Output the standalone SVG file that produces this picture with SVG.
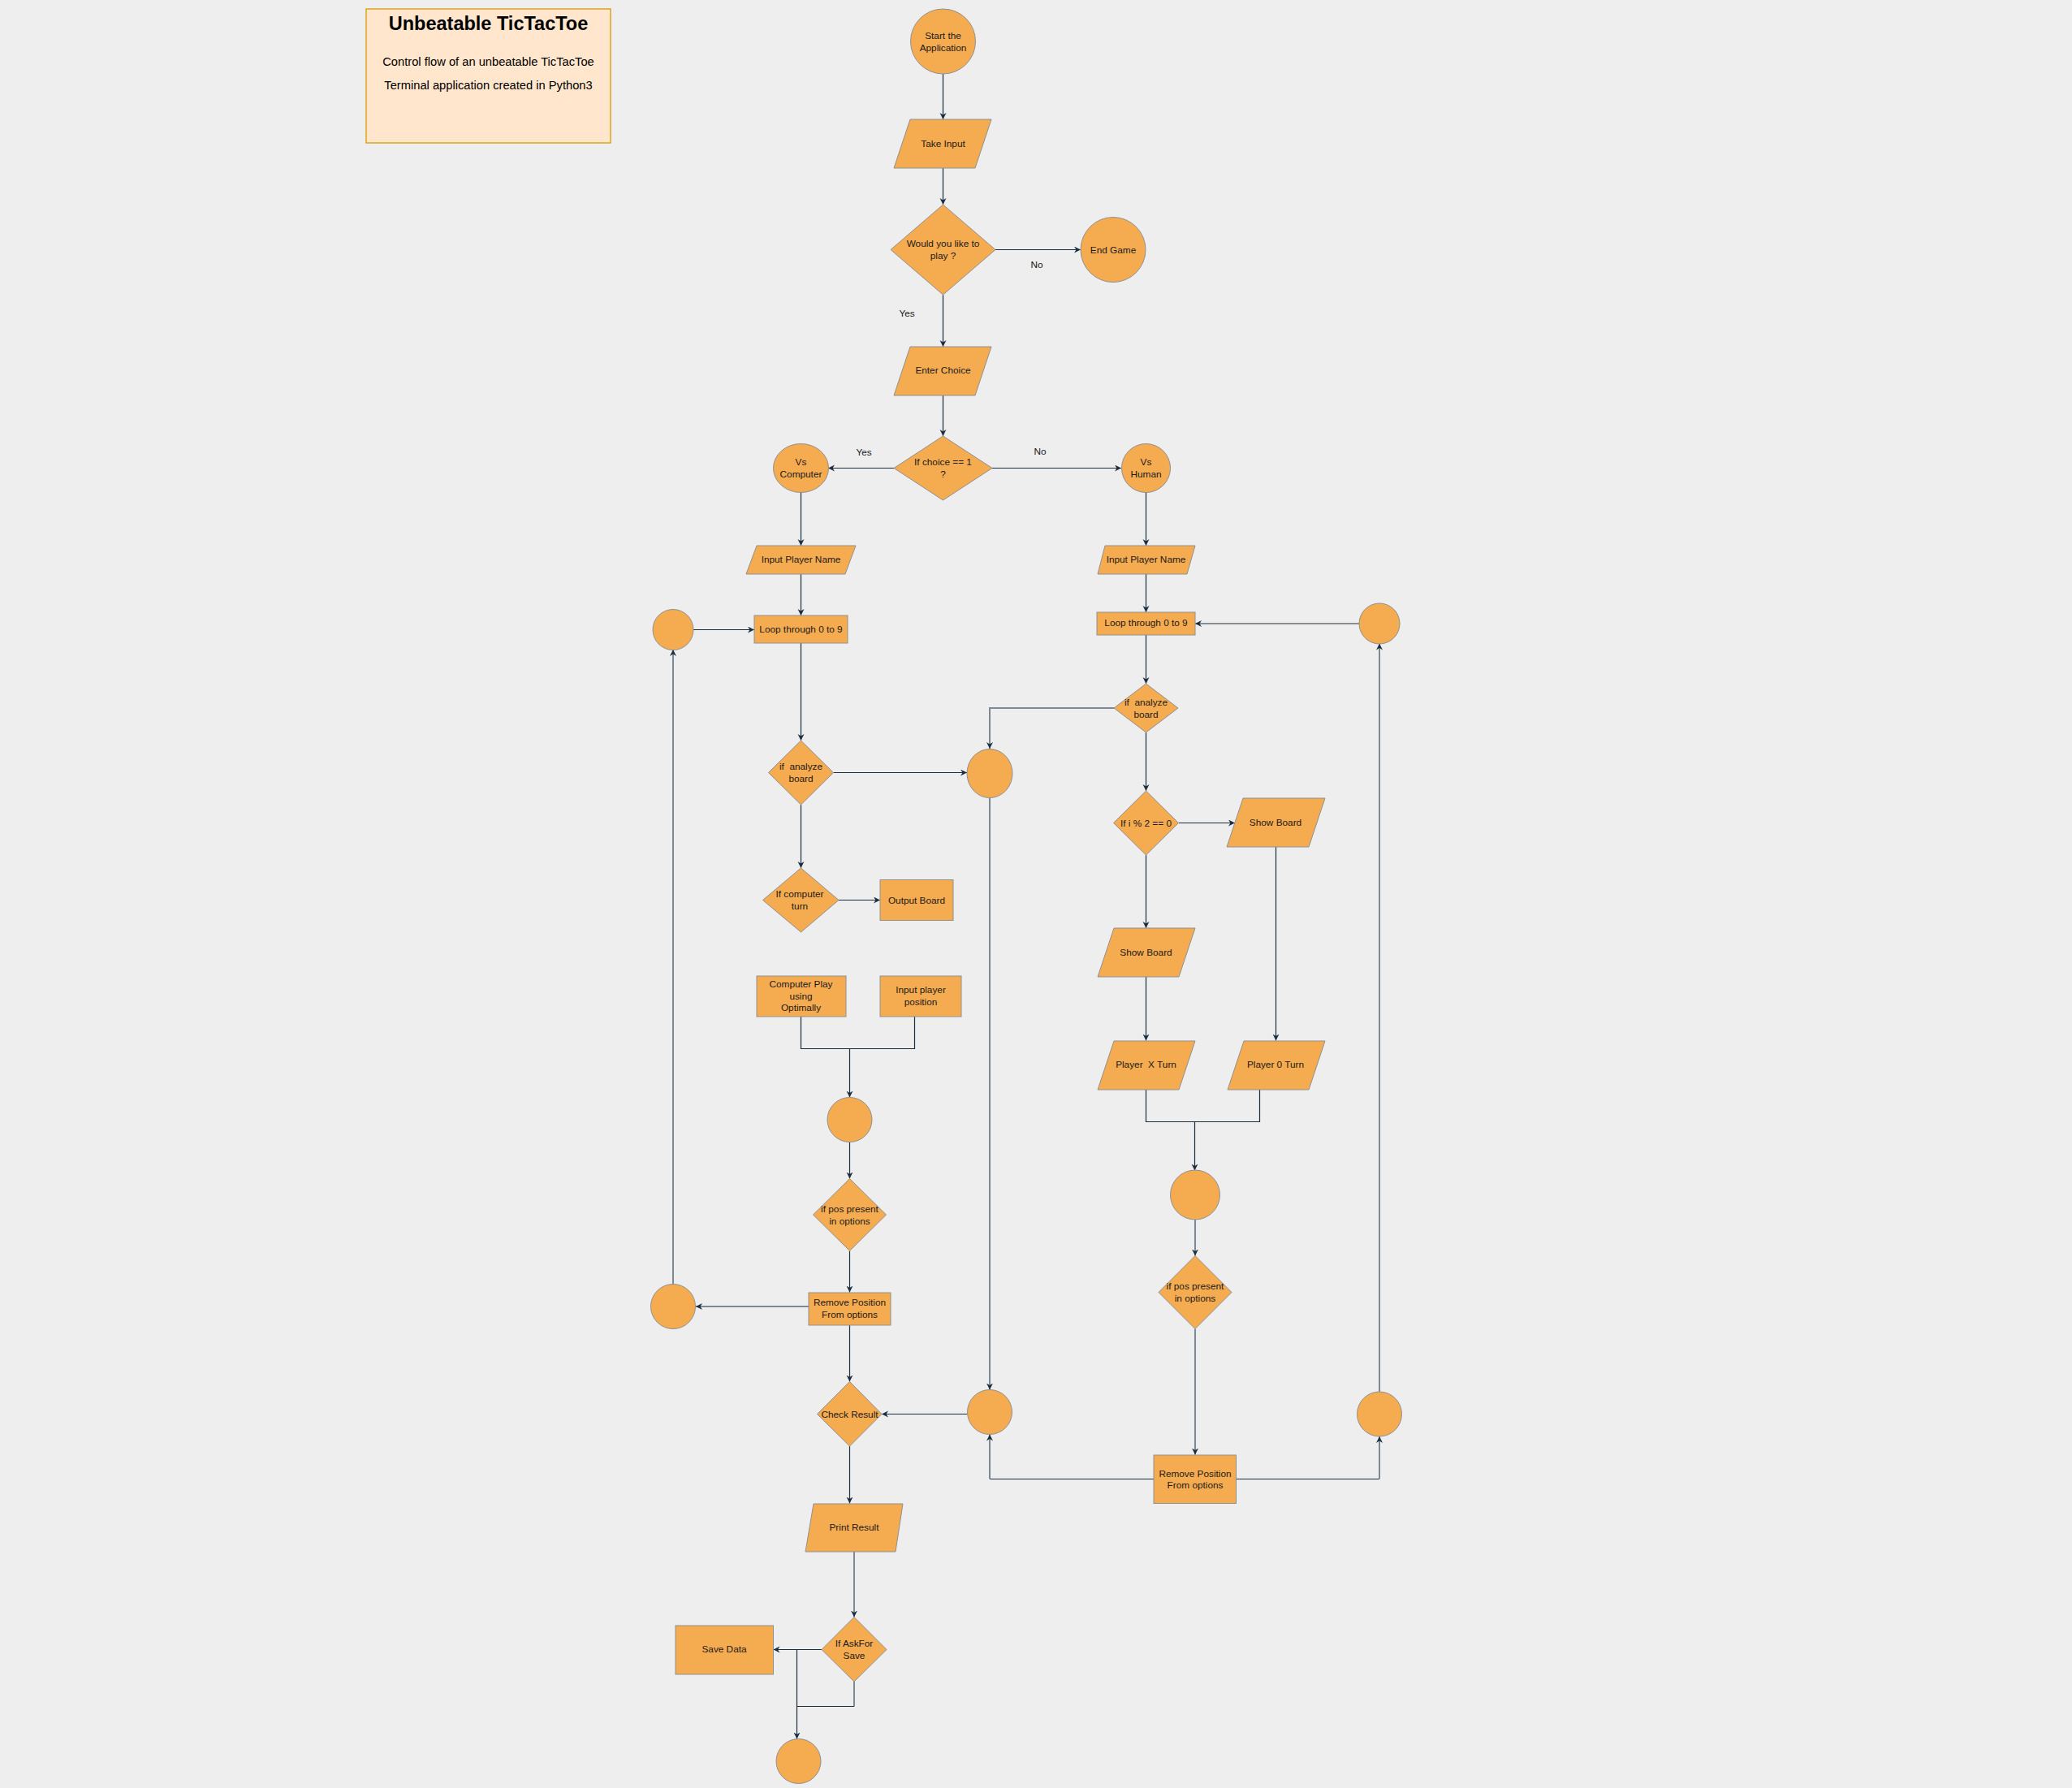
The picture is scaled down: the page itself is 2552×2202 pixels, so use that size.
<svg xmlns="http://www.w3.org/2000/svg" width="2552" height="2202" viewBox="0 0 2552 2202">
<style>
.n{fill:#F5AB50;stroke:#909090;stroke-width:1}
.t{font-family:"Liberation Sans",Arial,sans-serif;font-size:11.8px;fill:#1A1A1A;text-anchor:middle}
.e{fill:none;stroke:#1b2e3f;stroke-width:1.2}
.g{fill:none;stroke:#7d8995;stroke-width:2}
</style>
<defs>
<marker id="a" markerUnits="userSpaceOnUse" markerWidth="10" markerHeight="10" refX="8" refY="4" orient="auto">
<path d="M0,0 L8,4 L0,8 L2.5,4 z" fill="#1b2e3f"/>
</marker>
</defs>
<rect x="0" y="0" width="2552" height="2202" fill="#EEEEEE"/>

<g id="title">
<rect x="451" y="11" width="301" height="165" fill="#ffe6cc" stroke="#d79b00" stroke-width="1.3"/>
<text x="601.5" y="37" font-family="Liberation Sans,Arial,sans-serif" font-size="23.5" font-weight="bold" text-anchor="middle" fill="#000">Unbeatable TicTacToe</text>
<text x="601.5" y="81" font-family="Liberation Sans,Arial,sans-serif" font-size="14.7" text-anchor="middle" fill="#000">Control flow of an unbeatable TicTacToe</text>
<text x="601.5" y="110" font-family="Liberation Sans,Arial,sans-serif" font-size="14.7" text-anchor="middle" fill="#000">Terminal application created in Python3</text>
</g>

<g id="connectors">
<path class="e" d="M1161.5,91 V147" marker-end="url(#a)"/>
<path class="e" d="M1161.5,207 V252" marker-end="url(#a)"/>
<path class="e" d="M1226,307.5 H1331" marker-end="url(#a)"/>
<path class="e" d="M1161.5,363 V427" marker-end="url(#a)"/>
<path class="e" d="M1161.5,487 V537" marker-end="url(#a)"/>
<path class="e" d="M1101,576.5 H1020" marker-end="url(#a)"/>
<path class="e" d="M1222,576.5 H1381" marker-end="url(#a)"/>
<path class="e" d="M986.5,606 V672" marker-end="url(#a)"/>
<path class="e" d="M1411.5,606 V672" marker-end="url(#a)"/>
<path class="e" d="M986.5,707 V758" marker-end="url(#a)"/>
<path class="e" d="M854,775.5 H929" marker-end="url(#a)"/>
<path class="e" d="M986.5,792 V912" marker-end="url(#a)"/>
<path class="e" d="M1026.5,951.5 H1191" marker-end="url(#a)"/>
<path class="e" d="M986.5,991 V1069" marker-end="url(#a)"/>
<path class="e" d="M1033,1108.5 H1084" marker-end="url(#a)"/>
<path class="e" d="M986.5,1252 V1291.5 H1126.5 V1252"/>
<path class="e" d="M1046.5,1291.5 V1351.5" marker-end="url(#a)"/>
<path class="e" d="M1046.5,1406.5 V1451.5" marker-end="url(#a)"/>
<path class="e" d="M1046.5,1540.5 V1591.5" marker-end="url(#a)"/>
<path class="g" d="M996,1609 H857" marker-end="url(#a)"/>
<path class="g" d="M829,1581 V800" marker-end="url(#a)"/>
<path class="e" d="M1046.5,1631.5 V1701.5" marker-end="url(#a)"/>
<path class="e" d="M1411.5,707 V754" marker-end="url(#a)"/>
<path class="e" d="M1674,768 H1472" marker-end="url(#a)"/>
<path class="e" d="M1411.5,782 V842" marker-end="url(#a)"/>
<path class="g" d="M1372,872 H1219 V922" marker-end="url(#a)"/>
<path class="e" d="M1411.5,902 V974" marker-end="url(#a)"/>
<path class="e" d="M1451.5,1013.5 H1521" marker-end="url(#a)"/>
<path class="e" d="M1411.5,1052.5 V1143" marker-end="url(#a)"/>
<path class="e" d="M1571.5,1043 V1281.5" marker-end="url(#a)"/>
<path class="e" d="M1411.5,1203 V1281.5" marker-end="url(#a)"/>
<path class="e" d="M1411.5,1342 V1381.5 H1551.5 V1342"/>
<path class="e" d="M1471.5,1381.5 V1441.5" marker-end="url(#a)"/>
<path class="g" d="M1472,1502 V1546.5" marker-end="url(#a)"/>
<path class="g" d="M1472,1636.5 V1791.5" marker-end="url(#a)"/>
<path class="e" d="M1421,1821.5 H1219"/>
<path class="g" d="M1219,1821.5 V1766.5" marker-end="url(#a)"/>
<path class="e" d="M1522.5,1821.5 H1699"/>
<path class="g" d="M1699,1821.5 V1769" marker-end="url(#a)"/>
<path class="g" d="M1699,1714 V792.5" marker-end="url(#a)"/>
<path class="g" d="M1219,983 V1711.5" marker-end="url(#a)"/>
<path class="e" d="M1191.5,1741.5 H1086" marker-end="url(#a)"/>
<path class="e" d="M1046.5,1781 V1851.5" marker-end="url(#a)"/>
<path class="g" d="M1052,1911 V1991.5" marker-end="url(#a)"/>
<path class="e" d="M1012,2031.5 H952.5" marker-end="url(#a)"/>
<path class="e" d="M981.5,2031.5 V2141.5" marker-end="url(#a)"/>
<path class="g" d="M1052,2070.5 V2101.5"/>
<path class="e" d="M1052,2101.5 H981.5"/>
</g>

<g id="start"><circle class="n" cx="1161.5" cy="51" r="40"/><text class="t" x="1161.5" y="48.3">Start the</text><text class="t" x="1161.5" y="63.3">Application</text></g>
<g id="take-input"><polygon class="n" points="1121,147 1221,147 1201,207 1101,207"/><text class="t" x="1161.5" y="181.2">Take Input</text></g>
<g id="play-decision"><polygon class="n" points="1161.5,252 1226,307.5 1161.5,363 1097,307.5"/><text class="t" x="1161.5" y="304.2">Would you like to</text><text class="t" x="1161.5" y="319.2">play ?</text></g>
<g id="end-game"><circle class="n" cx="1371" cy="307.5" r="40"/><text class="t" x="1371" y="311.7">End Game</text></g>
<g id="label-no1"><text class="t" x="1277" y="330.2">No</text></g>
<g id="label-yes1"><text class="t" x="1117" y="390.2">Yes</text></g>
<g id="enter-choice"><polygon class="n" points="1121,427 1221,427 1201,487 1101,487"/><text class="t" x="1161.5" y="460.2">Enter Choice</text></g>
<g id="choice-decision"><polygon class="n" points="1161.5,537 1222,576.5 1161.5,616 1101,576.5"/><text class="t" x="1161.5" y="573.2">If choice == 1</text><text class="t" x="1161.5" y="588.2">?</text></g>
<g id="label-yes2"><text class="t" x="1064" y="561.2">Yes</text></g>
<g id="label-no2"><text class="t" x="1281" y="560.2">No</text></g>
<g id="vs-computer"><ellipse class="n" cx="986.5" cy="576.5" rx="34" ry="30"/><text class="t" x="986.5" y="573.2">Vs</text><text class="t" x="986.5" y="588.2">Computer</text></g>
<g id="vs-human"><circle class="n" cx="1411.5" cy="576.5" r="30"/><text class="t" x="1411.5" y="573.2">Vs</text><text class="t" x="1411.5" y="588.2">Human</text></g>
<g id="input-name-left"><polygon class="n" points="932,672 1054,672 1041,707 919,707"/><text class="t" x="986.5" y="693.2">Input Player Name</text></g>
<g id="input-name-right"><polygon class="n" points="1361,672 1472,672 1462,707 1352,707"/><text class="t" x="1411.5" y="693.2">Input Player Name</text></g>
<g id="loop-left"><rect class="n" x="929" y="758" width="115" height="34"/><text class="t" x="986.5" y="779.2">Loop through 0 to 9</text></g>
<g id="loop-left-conn"><circle class="n" cx="829" cy="775.5" r="25"/></g>
<g id="loop-right"><rect class="n" x="1351" y="754" width="121" height="28"/><text class="t" x="1411.5" y="771.2">Loop through 0 to 9</text></g>
<g id="loop-right-conn"><circle class="n" cx="1699" cy="768" r="25"/></g>
<g id="analyze-left"><polygon class="n" points="986.5,912 1026.5,951.5 986.5,991 946.5,951.5"/><text class="t" x="986.5" y="948.2" xml:space="preserve">if  analyze</text><text class="t" x="986.5" y="963.2">board</text></g>
<g id="mid-conn-top"><ellipse class="n" cx="1219" cy="952.5" rx="28" ry="30"/></g>
<g id="analyze-right"><polygon class="n" points="1411.5,842 1451,872 1411.5,902 1372,872"/><text class="t" x="1411.5" y="869.2" xml:space="preserve">if  analyze</text><text class="t" x="1411.5" y="884.2">board</text></g>
<g id="computer-turn"><polygon class="n" points="986.5,1069 1033,1108.5 986.5,1148 939.5,1108.5"/><text class="t" x="985" y="1105">If computer</text><text class="t" x="985" y="1120">turn</text></g>
<g id="output-board"><rect class="n" x="1084" y="1083.5" width="90" height="50"/><text class="t" x="1129" y="1112.5">Output Board</text></g>
<g id="mod-decision"><polygon class="n" points="1411.5,974 1451.5,1013.5 1411.5,1053 1371.5,1013.5"/><text class="t" x="1411.5" y="1017.7">If i % 2 == 0</text></g>
<g id="show-board-right"><polygon class="n" points="1531,983 1632,983 1612,1043 1511,1043"/><text class="t" x="1571" y="1017.2">Show Board</text></g>
<g id="show-board-left"><polygon class="n" points="1372,1143 1472,1143 1452,1203 1352,1203"/><text class="t" x="1411.5" y="1177.2">Show Board</text></g>
<g id="player-x"><polygon class="n" points="1372,1282 1472,1282 1452,1342 1352,1342"/><text class="t" x="1411.5" y="1315.4" xml:space="preserve">Player  X Turn</text></g>
<g id="player-0"><polygon class="n" points="1532,1282 1632,1282 1612,1342 1512,1342"/><text class="t" x="1571" y="1315.4">Player 0 Turn</text></g>
<g id="computer-play"><rect class="n" x="932" y="1202" width="110" height="50"/><text class="t" x="986.5" y="1216.3">Computer Play</text><text class="t" x="986.5" y="1230.8">using</text><text class="t" x="986.5" y="1245.3">Optimally</text></g>
<g id="input-position"><rect class="n" x="1084" y="1202" width="100" height="50"/><text class="t" x="1134" y="1223.2">Input player</text><text class="t" x="1134" y="1238.2">position</text></g>
<g id="merge-left"><circle class="n" cx="1046.5" cy="1379" r="27.5"/></g>
<g id="pos-left"><polygon class="n" points="1046.5,1451.5 1091.5,1496 1046.5,1540.5 1001.5,1496"/><text class="t" x="1046.5" y="1493.2">if pos present</text><text class="t" x="1046.5" y="1508.2">in options</text></g>
<g id="remove-left"><rect class="n" x="996" y="1592" width="101" height="40"/><text class="t" x="1046.5" y="1608.2">Remove Position</text><text class="t" x="1046.5" y="1623.2">From options</text></g>
<g id="back-left"><circle class="n" cx="829" cy="1609" r="27.5"/></g>
<g id="merge-right"><circle class="n" cx="1472" cy="1471.5" r="30.5"/></g>
<g id="pos-right"><polygon class="n" points="1472,1546.5 1517,1591.5 1472,1636.5 1427,1591.5"/><text class="t" x="1472" y="1588.2">if pos present</text><text class="t" x="1472" y="1603.2">in options</text></g>
<g id="remove-right"><rect class="n" x="1421" y="1792" width="101.5" height="59.5"/><text class="t" x="1472" y="1818.5">Remove Position</text><text class="t" x="1472" y="1833.2">From options</text></g>
<g id="back-right"><circle class="n" cx="1699" cy="1741.5" r="27.5"/></g>
<g id="mid-conn-bottom"><circle class="n" cx="1219" cy="1739" r="27.5"/></g>
<g id="check-result"><polygon class="n" points="1046.5,1701.5 1086,1741.5 1046.5,1781 1006.5,1741.5"/><text class="t" x="1046.5" y="1745.5">Check Result</text></g>
<g id="print-result"><polygon class="n" points="1002,1852 1112,1852 1103,1911 992,1911"/><text class="t" x="1052" y="1885.2">Print Result</text></g>
<g id="ask-save"><polygon class="n" points="1052,1991.5 1092,2031.5 1052,2071 1012,2031.5"/><text class="t" x="1052" y="2028.2">If AskFor</text><text class="t" x="1052" y="2043.2">Save</text></g>
<g id="save-data"><rect class="n" x="832" y="2002" width="120.5" height="60"/><text class="t" x="892" y="2035.4">Save Data</text></g>
<g id="end-circle"><circle class="n" cx="983.5" cy="2169" r="27.5"/></g>
</svg>
